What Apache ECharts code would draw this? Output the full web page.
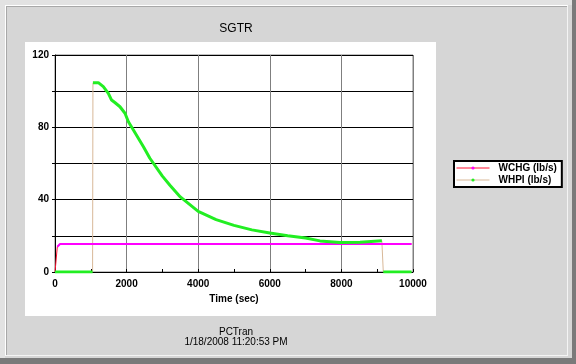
<!DOCTYPE html>
<html>
<head>
<meta charset="utf-8">
<script src="https://cdn.jsdelivr.net/npm/echarts@6/dist/echarts.min.js"></script>
<style>
  html, body { margin: 0; padding: 0; background: #d4d4d4; }
  #frame { position: absolute; left: 0; top: 0; width: 576px; height: 364px; background: #d6d6d6; overflow: hidden; }
  #darkR { position: absolute; left: 572px; top: 0; width: 4px; height: 364px; background: #7a7a7a; }
  #darkB { position: absolute; left: 0; top: 358px; width: 576px; height: 6px; background: #7a7a7a; }
  #outerL { position: absolute; left: 0; top: 0; width: 576px; height: 364px; box-sizing: border-box; border-top: 5px solid #e2e2e2; border-left: 5px solid #e2e2e2; }
  #groove { position: absolute; left: 5px; top: 5px; width: 563px; height: 351px; box-sizing: border-box; border-top: 1px solid #ffffff; border-left: 1px solid #ffffff; border-right: 1px solid #f4f4f4; border-bottom: 1px solid #f4f4f4; }
  #groove2 { position: absolute; left: 6px; top: 6px; width: 561px; height: 349px; box-sizing: border-box; border-top: 1px solid #a8a8a8; border-left: 1px solid #a8a8a8; }
  #panel { position: absolute; left: 25px; top: 42px; width: 411px; height: 274px; background: #ffffff; }
  #chart { position: absolute; left: 0; top: 0; width: 576px; height: 364px; }
</style>
</head>
<body>
<div id="frame">
  <div id="outerL"></div>
  <div id="darkR"></div>
  <div id="darkB"></div>
  <div id="groove"></div>
  <div id="groove2"></div>
  <div id="panel"></div>
  <div id="chart"></div>
</div>
<script>
// ---- data ----
const titleText = "SGTR";
const footerLine1 = "PCTran";
const footerLine2 = "1/18/2008 11:20:53 PM";
const xAxisName = "Time (sec)";

const seriesNames = ["WCHG (lb/s)", "WHPI (lb/s)"];

const wchgTime  = [0, 65, 140, 9960];
const wchgValue = [0, 14, 15.5, 15.5];

const whpiTime  = [0, 1050, 1060, 1100, 1210, 1350, 1490, 1580, 1680, 1815, 1955, 2050, 2190, 2470, 2650, 3000, 3210, 3500, 4000, 4500, 5000, 5500, 6000, 6500, 7000, 7400, 7960, 8520, 9130, 9170, 9960];
const whpiValue = [0, 0, 104.6, 105.3, 104.7, 102.5, 98.8, 95.1, 93.6, 91.4, 87.8, 83.1, 78.5, 69.3, 62.9, 53, 48, 41.5, 33.5, 29, 25.8, 23.3, 21.6, 20.1, 18.8, 17.2, 16.3, 16.5, 17.3, 0, 0];

const xMin = 0, xMax = 10000, xStep = 2000;
const yMin = 0, yMax = 120, yStep = 20, yLabelStep = 40;

// ---- helpers ----
function pairs(ts, vs) { return ts.map((t, i) => [t, vs[i]]); }
// split into segments where the value jumps (those jumps are drawn only by the thin connecting line)
function segments(ts, vs, jump) {
  const out = []; let cur = [[ts[0], vs[0]]];
  for (let i = 1; i < ts.length; i++) {
    if (Math.abs(vs[i] - vs[i - 1]) > jump) { out.push(cur); cur = []; }
    cur.push([ts[i], vs[i]]);
  }
  out.push(cur);
  return out;
}

const styles = [
  { line: '#ff1030', marker: '#ff00ff', width: 2 },
  { line: '#d8b898', marker: '#22ee22', width: 3 }
];
const raw = [[wchgTime, wchgValue], [whpiTime, whpiValue]];

const series = [];
raw.forEach((r, k) => {
  series.push({
    name: seriesNames[k], type: 'line', data: pairs(r[0], r[1]),
    symbol: 'circle', symbolSize: 3, showSymbol: false,
    lineStyle: { color: styles[k].line, width: 1 },
    itemStyle: { color: styles[k].marker },
    z: 3, silent: true, animation: false
  });
  segments(r[0], r[1], 10).forEach(seg => {
    if (seg.length < 2) return;
    series.push({
      type: 'line', data: seg, symbol: 'none',
      lineStyle: { color: styles[k].marker, width: styles[k].width },
      z: 4 + k, silent: true, animation: false
    });
  });
});

const chart = echarts.init(document.getElementById('chart'), null, { renderer: 'canvas' });
const fontFam = '"Liberation Sans", Arial, sans-serif';
const footStyle = { fontFamily: fontFam, fontSize: 10, fontWeight: 'normal', color: '#000' };
chart.setOption({
  backgroundColor: 'transparent',
  animation: false,
  title: [
    { text: titleText, left: 231, top: 18, textAlign: 'center',
      textStyle: { fontFamily: fontFam, fontSize: 12, fontWeight: 'normal', color: '#000' } },
    { text: footerLine1, left: 231, top: 322, textAlign: 'center', textStyle: footStyle },
    { text: footerLine2, left: 231, top: 332, textAlign: 'center', textStyle: footStyle }
  ],
  legend: {
    orient: 'vertical', left: 454, top: 161,
    data: seriesNames.map((n, k) => ({
      name: n,
      itemStyle: { color: styles[k].marker },
      lineStyle: { color: styles[k].line, width: 1 }
    })),
    itemWidth: 33, itemHeight: 4, itemGap: 2,
    padding: [2, 5, 2, 2],
    backgroundColor: '#ffffff', borderColor: '#000000', borderWidth: 2, borderRadius: 0,
    textStyle: { fontFamily: fontFam, fontSize: 10, fontWeight: 'bold', color: '#000', padding: [0, 0, 0, 4], lineHeight: 10 }
  },
  grid: { left: 55, right: 163, top: 55, bottom: 92, show: true, borderColor: '#808080', borderWidth: 1, backgroundColor: 'transparent' },
  xAxis: {
    type: 'value', min: xMin, max: xMax, interval: xStep,
    name: xAxisName, nameLocation: 'middle', nameGap: 20,
    nameTextStyle: { fontFamily: fontFam, fontSize: 10, fontWeight: 'bold', color: '#000' },
    axisLine: { show: true, onZero: false, lineStyle: { color: '#000', width: 1 } },
    axisTick: { show: true, inside: true, length: 3, lineStyle: { color: '#000' } },
    minorTick: { show: true, splitNumber: 2, length: 3, lineStyle: { color: '#000' } },
    axisLabel: { fontFamily: fontFam, fontSize: 10, fontWeight: 'bold', color: '#000', margin: 7,
      formatter: v => String(v) },
    splitLine: { show: true, lineStyle: { color: '#7f7f7f', width: 1 } }
  },
  yAxis: {
    type: 'value', min: yMin, max: yMax, interval: yStep,
    axisLine: { show: true, lineStyle: { color: '#000', width: 1 } },
    axisTick: { show: true, length: 3, lineStyle: { color: '#000' } },
    axisLabel: { fontFamily: fontFam, fontSize: 10, fontWeight: 'bold', color: '#000', margin: 6,
      formatter: v => (v % yLabelStep === 0 ? String(v) : '') },
    splitLine: { show: true, lineStyle: { color: '#000', width: 1 } }
  },
  series: series
});
</script>
</body>
</html>
